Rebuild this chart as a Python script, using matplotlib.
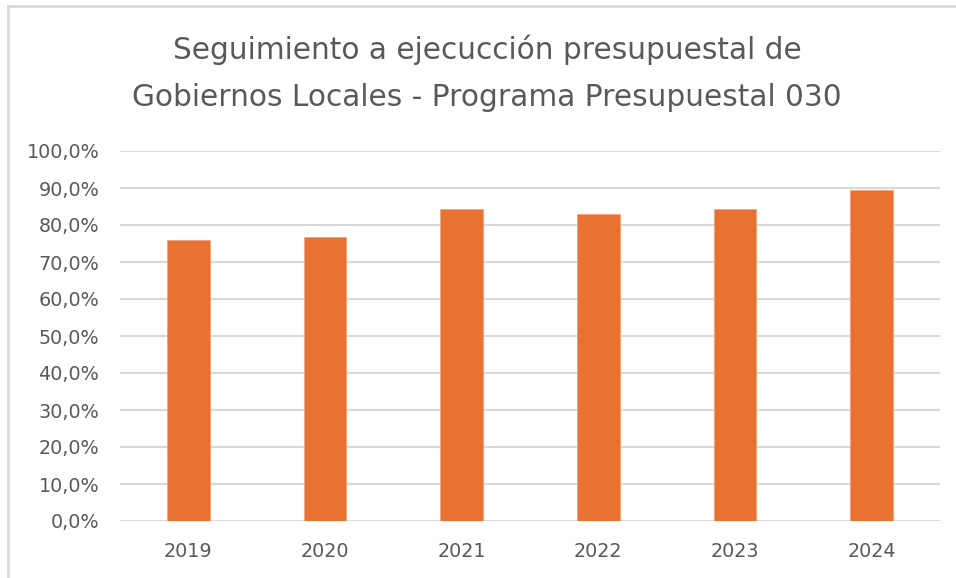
import matplotlib
matplotlib.use("Agg")
import matplotlib.pyplot as plt
from matplotlib.lines import Line2D
from matplotlib.ticker import FuncFormatter

years = ["2019", "2020", "2021", "2022", "2023", "2024"]
values = [75.9, 76.7, 84.3, 82.9, 84.2, 89.4]
yticks = [0, 10, 20, 30, 40, 50, 60, 70, 80, 90, 100]

W, H = 956, 578
fig = plt.figure(figsize=(W / 100, H / 100), dpi=100)
fig.patch.set_facecolor("white")
# chart frame (only top and left edges visible in reference)
fig.add_artist(Line2D([8 / W, 8 / W], [0, 1 - 6 / H], transform=fig.transFigure,
                      color="#d9d9d9", linewidth=2))
fig.add_artist(Line2D([8 / W, 1], [1 - 6 / H, 1 - 6 / H], transform=fig.transFigure,
                      color="#d9d9d9", linewidth=2))

ax = fig.add_axes([120 / W, 1 - 521 / H, 820 / W, 370 / H])
x = range(len(years))
ax.bar(x, values, width=0.31, color="#E97132", edgecolor="#F2A27A", linewidth=0.6, zorder=3)
ax.set_xlim(-0.5, len(years) - 0.5)
ax.set_ylim(0, 100)
ax.set_yticks(yticks)
ax.yaxis.set_major_formatter(FuncFormatter(lambda v, p: f"{v:.1f}%".replace(".", ",")))
ax.set_xticks(list(x))
ax.set_xticklabels(years)
ax.grid(axis="y", color="#d9d9d9", linewidth=1.5, zorder=0)
for s in ax.spines.values():
    s.set_visible(False)
ax.tick_params(axis="both", length=0, colors="#595959", labelsize=13.8)
ax.tick_params(axis="y", pad=15)
ax.tick_params(axis="x", pad=15)

fig.text(487 / W, 1 - 59 / H, "Seguimiento a ejecucción presupuestal de", ha="center",
         va="baseline", fontsize=21.3, color="#595959")
fig.text(487 / W, 1 - 106 / H, "Gobiernos Locales - Programa Presupuestal 030", ha="center",
         va="baseline", fontsize=21.3, color="#595959")

fig.savefig("out.png", dpi=100)
